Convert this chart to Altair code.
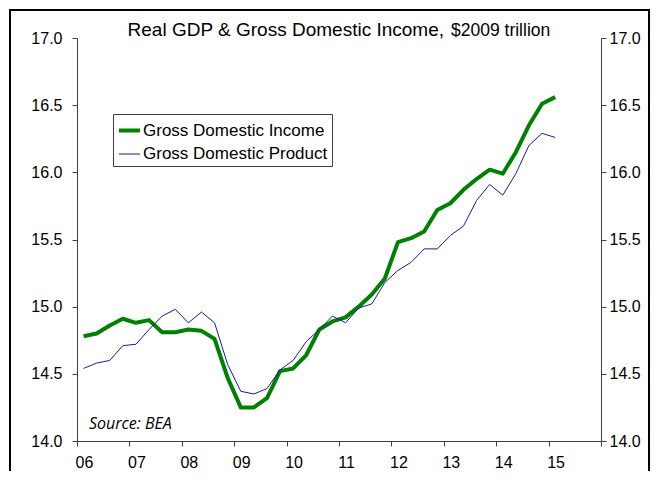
import altair as alt
import pandas as pd

# Quarterly data, 2006Q1 - 2015Q1 ($2009 trillion)
quarters = [f"{y}Q{q}" for y in range(2006, 2016) for q in range(1, 5)][:37]

gdi = [14.78, 14.80, 14.86, 14.91,
       14.88, 14.90, 14.81, 14.81,
       14.83, 14.82, 14.76, 14.47,
       14.25, 14.25, 14.32, 14.52,
       14.54, 14.64, 14.83, 14.89,
       14.92, 15.00, 15.09, 15.21,
       15.48, 15.51, 15.56, 15.72,
       15.77, 15.87, 15.95, 16.02,
       15.99, 16.15, 16.35, 16.51,
       16.56]

gdp = [14.54, 14.58, 14.60, 14.71,
       14.72, 14.83, 14.93, 14.98,
       14.88, 14.96, 14.88, 14.57,
       14.37, 14.35, 14.39, 14.53,
       14.60, 14.74, 14.83, 14.93,
       14.88, 14.99, 15.02, 15.18,
       15.27, 15.33, 15.43, 15.43,
       15.53, 15.60, 15.79, 15.91,
       15.83, 15.99, 16.20, 16.29,
       16.26]

series_names = ["Gross Domestic Income", "Gross Domestic Product"]
series_colors = ["#008000", "#1a1a99"]
series_widths = [4, 1]

y_ticks = [14.0, 14.5, 15.0, 15.5, 16.0, 16.5, 17.0]
x_ticks = list(range(2006, 2017))

title_main = "Real GDP & Gross Domestic Income,"
title_unit = "$2009 trillion"
source_text = "Source: BEA"

rows = []
for i, ql in enumerate(quarters):
    yr = int(ql[:4])
    q = int(ql[-1])
    t = yr + (q - 0.5) / 4
    rows.append({"t": t, "value": gdi[i], "series": series_names[0]})
    rows.append({"t": t, "value": gdp[i], "series": series_names[1]})
df = pd.DataFrame(rows)

FONT = "Liberation Sans"
AXIS_COL = "#404040"

x_enc = alt.X("t:Q", scale=alt.Scale(domain=[2006, 2016], nice=False, zero=False),
              axis=alt.Axis(values=x_ticks, title=None, grid=False,
                            labelExpr="datum.value < 2016 ? slice(toString(datum.value), 2) : ''",
                            labelOffset=7, labelFontSize=16, labelColor="black",
                            labelFont=FONT, domainColor=AXIS_COL, tickColor=AXIS_COL,
                            tickSize=5, labelPadding=8, labelFlush=False))

y_scale = alt.Scale(domain=[14, 17], nice=False, zero=False)

legend_cfg = dict(title=None, orient="none", legendX=36, legendY=76,
                  strokeColor=AXIS_COL, fillColor="white", padding=4,
                  labelFontSize=17, labelFont=FONT, labelColor="black", labelLimit=400,
                  symbolType="stroke", symbolSize=440, rowPadding=4, labelOffset=1)

lines = alt.Chart(df).mark_line(strokeJoin="round").encode(
    x=x_enc,
    y=alt.Y("value:Q", scale=y_scale,
            axis=alt.Axis(orient="left", values=y_ticks, format=".1f", title=None, grid=False,
                          labelFontSize=16, labelColor="black", labelFont=FONT,
                          domainColor=AXIS_COL, tickColor=AXIS_COL, tickSize=5,
                          labelPadding=10)),
    color=alt.Color("series:N",
                    scale=alt.Scale(domain=series_names, range=series_colors),
                    legend=alt.Legend(**legend_cfg)),
    strokeWidth=alt.StrokeWidth("series:N",
                                scale=alt.Scale(domain=series_names, range=series_widths),
                                legend=alt.Legend(**legend_cfg)),
)

right_axis = alt.Chart(df).mark_point(opacity=0).encode(
    x=alt.X("t:Q", scale=alt.Scale(domain=[2006, 2016], nice=False, zero=False)),
    y=alt.Y("value:Q", scale=y_scale,
            axis=alt.Axis(orient="right", values=y_ticks, format=".1f", title=None, grid=False,
                          labelFontSize=16, labelColor="black", labelFont=FONT,
                          domainColor=AXIS_COL, tickColor=AXIS_COL, tickSize=5,
                          labelPadding=3)),
)

# decorative outer frame (top, left, right edges)
one = pd.DataFrame({"a": [0]})
frame_top = alt.Chart(one).mark_rule(color="black", strokeWidth=2).encode(
    x=alt.value(-68), x2=alt.value(573), y=alt.value(-28))
frame_left = alt.Chart(one).mark_rule(color="black", strokeWidth=2).encode(
    x=alt.value(-67), y=alt.value(-29), y2=alt.value(460))
frame_right = alt.Chart(one).mark_rule(color="black", strokeWidth=2).encode(
    x=alt.value(572), y=alt.value(-29), y2=alt.value(460))

t1 = alt.Chart(pd.DataFrame({"txt": [title_main]})).mark_text(
    align="right", baseline="alphabetic", fontSize=19, font=FONT, color="black"
).encode(text="txt:N", x=alt.value(367), y=alt.value(-2))

t2 = alt.Chart(pd.DataFrame({"txt": [title_unit]})).mark_text(
    align="left", baseline="alphabetic", fontSize=17.5, font=FONT, color="black"
).encode(text="txt:N", x=alt.value(374), y=alt.value(-2))

src = alt.Chart(pd.DataFrame({"txt": [source_text]})).mark_text(
    align="left", baseline="middle", fontSize=16, font="Open Sans", fontStyle="italic", color="black"
).encode(text="txt:N", x=alt.value(12), y=alt.value(386))

chart = alt.layer(frame_top, frame_left, frame_right, lines, right_axis, t1, t2, src).resolve_scale(
    y="shared"
).resolve_axis(
    y="independent"
).properties(
    width=524, height=403,
    autosize=alt.AutoSizeParams(type="none"),
    padding={"left": 69, "top": 30, "right": 50, "bottom": 30},
).configure_view(stroke=None)

chart.save("out.html", embed_options={"renderer": "svg", "actions": False})
